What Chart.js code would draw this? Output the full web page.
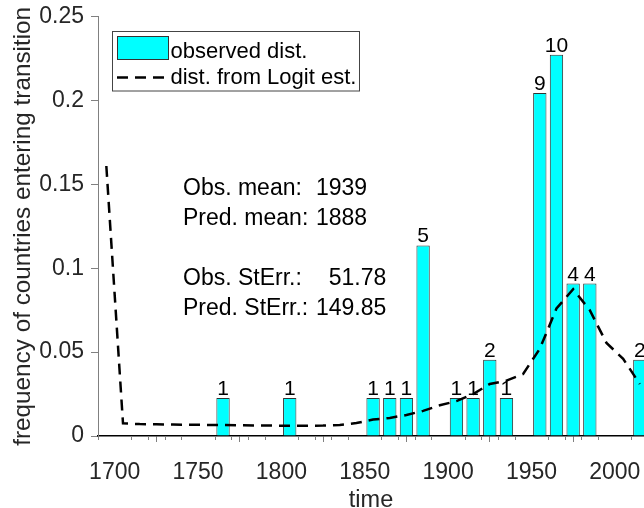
<!DOCTYPE html>
<html>
<head>
<meta charset="utf-8">
<script src="https://cdn.jsdelivr.net/npm/chart.js@4.4.1/dist/chart.umd.min.js"></script>
<style>
  html, body { margin: 0; padding: 0; background: #fff; overflow: hidden; }
  #wrap { width: 644px; height: 508px; }
</style>
</head>
<body>
<div id="wrap"><canvas id="chart" width="644" height="508"></canvas></div>
<script>
// observed distribution, one bar per decade
const binCenters = [1765, 1805, 1855, 1865, 1875, 1885, 1905, 1915, 1925, 1935, 1955, 1965, 1975, 1985, 2015];
const binCounts = [1, 1, 1, 1, 1, 5, 1, 1, 2, 1, 9, 10, 4, 4, 2];
const observedFreq = [0.0227, 0.0227, 0.0227, 0.0227, 0.0227, 0.1136, 0.0227, 0.0227, 0.0455, 0.0227, 0.2045, 0.2273, 0.0909, 0.0909, 0.0455];

// distribution implied by the Logit estimates
const logitYears = [1695, 1705, 1715, 1725, 1735, 1745, 1755, 1765, 1775, 1785, 1795, 1805, 1815, 1825, 1835, 1845,
  1855, 1865, 1875, 1885, 1895, 1905, 1915, 1925, 1935, 1945, 1955, 1965, 1975, 1985, 1995, 2005, 2015];
const logitFreq = [0.161, 0.0075, 0.0071, 0.0070, 0.0068, 0.0067, 0.0066, 0.0065, 0.0064, 0.0063, 0.0062, 0.0061, 0.0061, 0.0062, 0.0066, 0.0077,
  0.0098, 0.0108, 0.0125, 0.0150, 0.0183, 0.0208, 0.0250, 0.0310, 0.0330, 0.0370, 0.0520, 0.0760, 0.0875, 0.0750, 0.0555, 0.0460, 0.0310];

const xTicks = [1700, 1750, 1800, 1850, 1900, 1950, 2000];
const yTicks = [0, 0.05, 0.1, 0.15, 0.2, 0.25];
const yTickLabels = ['0', '0.05', '0.1', '0.15', '0.2', '0.25'];

const statLabels = ['Obs. mean:', 'Pred. mean:', '', 'Obs. StErr.:', 'Pred. StErr.:'];
const statValues = ['1939', '1888', '', '  51.78', '149.85'];

const FONT = '"Liberation Sans", Arial, Helvetica, sans-serif';
Chart.defaults.font.family = FONT;

const extras = {
  id: 'extras',
  afterDatasetsDraw(chart) {
    const ctx = chart.ctx;
    const xs = chart.scales.x;

    // count labels above the bars
    const barMeta = chart.getDatasetMeta(0);
    ctx.save();
    ctx.font = '21px ' + FONT;
    ctx.fillStyle = '#000';
    ctx.textAlign = 'center';
    ctx.textBaseline = 'alphabetic';
    barMeta.data.forEach((bar, i) => {
      ctx.fillText(String(binCounts[i]), bar.x, bar.y - 3);
    });
    ctx.restore();

    // minor ticks every 10 years
    ctx.save();
    ctx.strokeStyle = '#808080';
    ctx.lineWidth = 1;
    for (let v = Math.ceil(xs.min / 10) * 10; v <= xs.max; v += 10) {
      if (v % 50 === 0) continue;
      const px = Math.round(xs.getPixelForValue(v)) + 0.5;
      ctx.beginPath();
      ctx.moveTo(px, xs.top);
      ctx.lineTo(px, xs.top + 4);
      ctx.stroke();
    }
    ctx.restore();

    // summary statistics
    ctx.save();
    ctx.font = '23px ' + FONT;
    ctx.fillStyle = '#000';
    ctx.textAlign = 'left';
    ctx.textBaseline = 'alphabetic';
    statLabels.forEach((lbl, i) => {
      const y = 195 + i * 30;
      ctx.fillText(lbl, 183, y);
      ctx.fillText(statValues[i], 316, y);
    });
    ctx.restore();

    // legend box
    const barDs = chart.data.datasets[0];
    const lineDs = chart.data.datasets[1];
    ctx.save();
    ctx.fillStyle = '#fff';
    ctx.fillRect(112.5, 31.5, 247, 59.5);
    ctx.strokeStyle = '#444';
    ctx.lineWidth = 1;
    ctx.strokeRect(112.5, 31.5, 247, 59.5);

    ctx.fillStyle = barDs.backgroundColor;
    ctx.fillRect(117.5, 36.5, 51, 23);
    ctx.strokeStyle = barDs.borderColor;
    ctx.strokeRect(117.5, 36.5, 51, 23);

    ctx.strokeStyle = lineDs.borderColor;
    ctx.lineWidth = lineDs.borderWidth;
    ctx.setLineDash(lineDs.borderDash);
    ctx.beginPath();
    ctx.moveTo(117, 77.5);
    ctx.lineTo(168, 77.5);
    ctx.stroke();
    ctx.setLineDash([]);

    ctx.font = '22px ' + FONT;
    ctx.fillStyle = '#000';
    ctx.textAlign = 'left';
    ctx.fillText(barDs.label, 170.5, 57.5);
    ctx.fillText(lineDs.label, 170.5, 84);
    ctx.restore();
  }
};

new Chart(document.getElementById('chart'), {
  type: 'bar',
  data: {
    datasets: [
      {
        type: 'bar',
        label: 'observed dist.',
        data: binCenters.map((x, i) => ({ x: x, y: observedFreq[i] })),
        backgroundColor: '#00ffff',
        borderColor: '#333333',
        borderWidth: 1,
        barPercentage: 0.8,
        categoryPercentage: 1.0,
        order: 2,
      },
      {
        type: 'line',
        label: 'dist. from Logit est.',
        data: logitYears.map((x, i) => ({ x: x, y: logitFreq[i] })),
        borderColor: '#000000',
        borderWidth: 2.5,
        borderDash: [11, 7],
        pointRadius: 0,
        tension: 0,
        fill: false,
        order: 1,
      },
    ],
  },
  options: {
    responsive: false,
    animation: false,
    devicePixelRatio: 1,
    layout: { padding: { top: 16.7, right: 0, bottom: 0, left: 0 } },
    plugins: {
      legend: { display: false },
      tooltip: { enabled: false },
    },
    scales: {
      x: {
        type: 'linear',
        min: 1690,
        max: 2017.5,
        offset: false,
        afterBuildTicks: (scale) => { scale.ticks = xTicks.map(v => ({ value: v })); },
        afterFit: (scale) => {
          scale.height = 72;
          scale.paddingLeft = 0;
          scale.paddingRight = 0;
        },
        ticks: {
          color: '#262626',
          font: { size: 23 },
          padding: 17,
          maxRotation: 0,
          autoSkip: false,
          callback: (v) => String(v),
        },
        grid: {
          drawOnChartArea: false,
          drawTicks: true,
          tickLength: 6,
          tickColor: '#808080',
        },
        border: { display: true, color: '#000000', width: 1.5 },
        title: {
          display: true,
          text: 'time',
          color: '#262626',
          font: { size: 23.5, lineHeight: 0.65 },
          padding: { top: 0, bottom: 0 },
        },
      },
      y: {
        min: 0,
        max: 0.25,
        afterBuildTicks: (scale) => { scale.ticks = yTicks.map(v => ({ value: v })); },
        afterFit: (scale) => {
          scale.width = 98;
          scale.paddingTop = 0;
          scale.paddingBottom = 0;
        },
        ticks: {
          color: '#262626',
          font: { size: 23 },
          padding: 7,
          autoSkip: false,
          callback: (v, i) => yTickLabels[i],
        },
        grid: {
          drawOnChartArea: false,
          drawTicks: true,
          tickLength: 7,
          tickColor: '#808080',
        },
        border: { display: true, color: '#808080', width: 1 },
        title: {
          display: true,
          text: 'frequency of countries entering transition',
          color: '#262626',
          font: { size: 24.3, lineHeight: 1 },
          padding: { top: 11, bottom: 0 },
        },
      },
    },
  },
  plugins: [extras],
});
</script>
</body>
</html>
